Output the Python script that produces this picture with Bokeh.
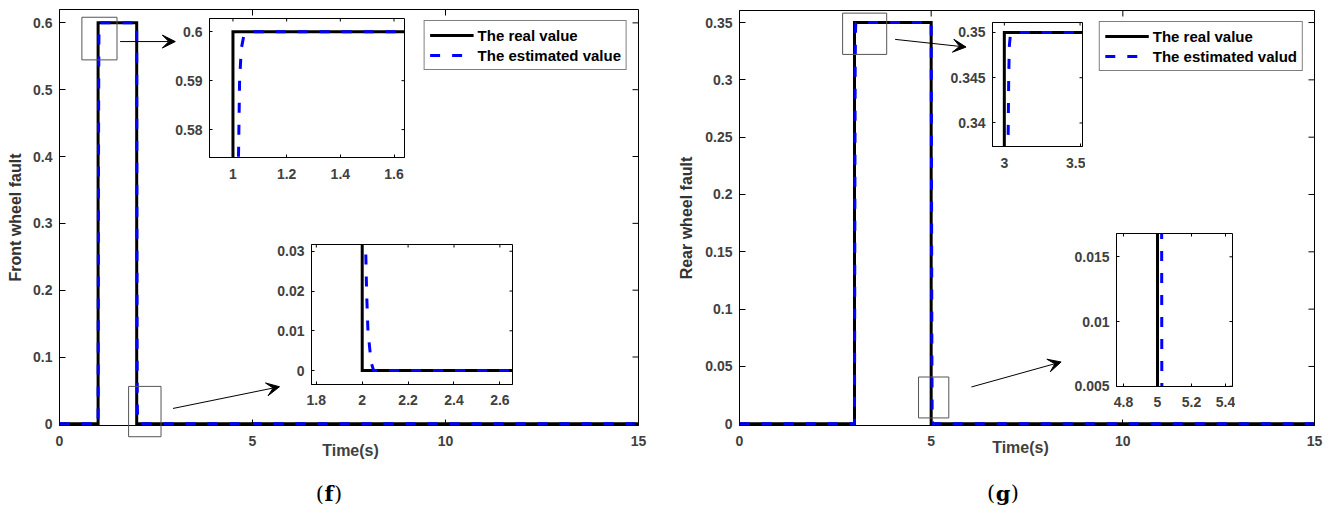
from bokeh.plotting import figure
from bokeh.models import (Range1d, FixedTicker, Legend, LegendItem,
                          Label, BoxAnnotation, Arrow, VeeHead, GridBox)
from bokeh.embed import file_html
from bokeh.resources import INLINE

# ---------------- data ----------------
front_real_t = [0, 1, 1, 2, 2, 15]
front_real_v = [0, 0, 0.6, 0.6, 0, 0]
front_est_t = [0, 1.0, 1.008, 1.014, 1.0206, 1.0247, 1.031, 1.0397, 1.065,
               2.0, 2.006, 2.010, 2.0148, 2.019, 2.025, 2.039, 2.05, 15]
front_est_v = [0, 0, 0.30, 0.48, 0.5743, 0.590, 0.5965, 0.599, 0.6,
               0.6, 0.30, 0.12, 0.0317, 0.020, 0.010, 0.002, 0, 0]

rear_real_t = [0, 3, 3, 5, 5, 15]
rear_real_v = [0, 0, 0.35, 0.35, 0, 0]
rear_est_t = [0, 3.0, 3.010, 3.018, 3.0247, 3.029, 3.033, 3.040, 3.070,
              5.0, 5.010, 5.018, 5.0245, 5.0255, 5.035, 5.06, 15]
rear_est_v = [0, 0, 0.20, 0.31, 0.3374, 0.345, 0.3485, 0.3497, 0.35,
              0.35, 0.20, 0.07, 0.0168, 0.005, 0.001, 0, 0]

series_names_f = ["The real value", "The estimated value"]
series_names_g = ["The real value", "The estimated valud"]

time_ticks = [0, 5, 10, 15]
time_labels = ["0", "5", "10", "15"]
front_ticks = [0, 0.1, 0.2, 0.3, 0.4, 0.5, 0.6]
front_labels = ["0", "0.1", "0.2", "0.3", "0.4", "0.5", "0.6"]
rear_ticks = [0, 0.05, 0.1, 0.15, 0.2, 0.25, 0.3, 0.35]
rear_labels = ["0", "0.05", "0.1", "0.15", "0.2", "0.25", "0.3", "0.35"]

f1_xticks = [1, 1.2, 1.4, 1.6]
f1_xlabels = ["1", "1.2", "1.4", "1.6"]
f1_yticks = [0.58, 0.59, 0.6]
f1_ylabels = ["0.58", "0.59", "0.6"]
f2_xticks = [1.8, 2, 2.2, 2.4, 2.6]
f2_xlabels = ["1.8", "2", "2.2", "2.4", "2.6"]
f2_yticks = [0, 0.01, 0.02, 0.03]
f2_ylabels = ["0", "0.01", "0.02", "0.03"]
g1_xticks = [3, 3.5]
g1_xlabels = ["3", "3.5"]
g1_yticks = [0.34, 0.345, 0.35]
g1_ylabels = ["0.34", "0.345", "0.35"]
g2_xticks = [4.8, 5, 5.2, 5.4]
g2_xlabels = ["4.8", "5", "5.2", "5.4"]
g2_yticks = [0.005, 0.01, 0.015]
g2_ylabels = ["0.005", "0.01", "0.015"]

xlabel = "Time(s)"
ylabel_f = "Front wheel fault"
ylabel_g = "Rear wheel fault"

# ---------------- styles ----------------
FONT = "Liberation Sans"
SERIF = "DejaVu Serif"
TICK_COLOR = "#404040"
LABEL_COLOR = "#333333"
BLUE = "#0000ff"
DASH = "10 12"


def configure_axis(ax, ticks, labels, tick_len, standoff, size="14px"):
    ax.ticker = FixedTicker(ticks=list(ticks))
    ax.major_label_overrides = {t: l for t, l in zip(ticks, labels)}
    ax.major_tick_in = tick_len
    ax.major_tick_out = 0
    ax.minor_tick_line_color = None
    ax.major_tick_line_color = "black"
    ax.axis_line_color = "black"
    ax.major_label_text_font = FONT
    ax.major_label_text_font_style = "bold"
    ax.major_label_text_font_size = size
    ax.major_label_text_color = TICK_COLOR
    ax.major_label_standoff = standoff


class Panel:
    """A figure placed at (x, y) on the page with a given frame rectangle."""

    def __init__(self, x, y, w, h, frame, xr, yr, transparent=False, axes=True):
        fx, fy, fw, fh = frame
        self.x, self.y, self.w, self.h = x, y, w, h
        self.fx, self.fy, self.fw, self.fh = fx, fy, fw, fh
        self.xr, self.yr = xr, yr
        left, top = fx - x, fy - y
        right, bottom = w - left - fw, h - top - fh
        kw = {}
        if not axes:
            kw = dict(x_axis_location=None, y_axis_location=None)
        p = figure(width=w, height=h, x_range=Range1d(*xr), y_range=Range1d(*yr),
                   output_backend="svg", toolbar_location=None, tools="",
                   min_border_left=left, min_border_right=right,
                   min_border_top=top, min_border_bottom=bottom, **kw)
        p.xgrid.visible = False
        p.ygrid.visible = False
        if axes:
            p.outline_line_color = "black"
            p.outline_line_width = 1
            p.outline_line_alpha = 1
            p.background_fill_color = "white"
        else:
            p.outline_line_color = None
            p.background_fill_alpha = 0
        if transparent:
            p.border_fill_alpha = 0
        else:
            p.border_fill_color = "white"
        self.p = p

    def axes(self, xt, xl, yt, yl, tick_len, xstand, ystand):
        p = self.p
        configure_axis(p.xaxis[0], xt, xl, tick_len, xstand)
        configure_axis(p.yaxis[0], yt, yl, tick_len, ystand)
        # mirrored inward ticks on the top and right edges of the box
        dy = tick_len * (self.yr[1] - self.yr[0]) / self.fh
        dx = tick_len * (self.xr[1] - self.xr[0]) / self.fw
        top = self.yr[1]
        right = self.xr[1]
        xin = [t for t in xt if self.xr[0] < t < self.xr[1]]
        yin = [t for t in yt if self.yr[0] < t < self.yr[1]]
        p.segment(x0=xin, x1=xin, y0=[top] * len(xin), y1=[top - dy] * len(xin),
                  line_color="black", line_width=1)
        p.segment(x0=[right] * len(yin), x1=[right - dx] * len(yin), y0=yin, y1=yin,
                  line_color="black", line_width=1)

    def draw(self, rt, rv, et, ev):
        r1 = self.p.line(rt, rv, line_color="black", line_width=3, line_join="miter")
        r2 = self.p.line(et, ev, line_color=BLUE, line_width=3, line_dash=DASH)
        return r1, r2


def overlay_of(panel, ox, oy, ow, oh):
    """A transparent, axis-less figure over a main panel, sharing its data units."""
    kx = (panel.xr[1] - panel.xr[0]) / panel.fw
    ky = (panel.yr[1] - panel.yr[0]) / panel.fh
    xr = (panel.xr[0] - (panel.fx - ox) * kx, panel.xr[0] + (ox + ow - panel.fx) * kx)
    yr = (panel.yr[1] - (oy + oh - panel.fy) * ky, panel.yr[1] + (panel.fy - oy) * ky)
    return Panel(ox, oy, ow, oh, (ox, oy, ow, oh), xr, yr, transparent=True, axes=False)


def add_legend(p, r1, r2, names):
    lg = Legend(items=[LegendItem(label=names[0], renderers=[r1]),
                       LegendItem(label=names[1], renderers=[r2])],
                location="top_right", margin=11, padding=5, spacing=2,
                glyph_width=44, glyph_height=18, label_height=18, label_standoff=4,
                label_text_font=FONT, label_text_font_style="bold",
                label_text_font_size="15px", label_text_color="black",
                border_line_color="black", border_line_width=1,
                background_fill_color="white", background_fill_alpha=1)
    p.add_layout(lg)


def add_texts(p, xl_x, xl_y, cap_x, cap_y, letter, half):
    p.add_layout(Label(x=xl_x, y=xl_y, text=xlabel, text_align="left",
                       text_baseline="alphabetic", text_font=FONT,
                       text_font_style="bold", text_font_size="16px",
                       text_color=TICK_COLOR))
    p.add_layout(Label(x=cap_x, y=cap_y, text="(", text_align="right", x_offset=-half,
                       text_baseline="alphabetic", text_font=SERIF,
                       text_font_size="21px", text_color="black"))
    p.add_layout(Label(x=cap_x, y=cap_y, text=letter, text_align="center",
                       text_baseline="alphabetic", text_font=SERIF,
                       text_font_style="bold", text_font_size="21px", text_color="black"))
    p.add_layout(Label(x=cap_x, y=cap_y, text=")", text_align="left", x_offset=half,
                       text_baseline="alphabetic", text_font=SERIF,
                       text_font_size="21px", text_color="black"))


def add_zoom_box(p, l, r, b, t):
    p.add_layout(BoxAnnotation(left=l, right=r, bottom=b, top=t, fill_alpha=0,
                               fill_color=None, line_color="#555555", line_width=1,
                               line_alpha=1))


def add_arrow(p, xs, ys, xe, ye):
    p.add_layout(Arrow(end=VeeHead(size=13, fill_color="black", line_color="black",
                                   line_width=1),
                       x_start=xs, y_start=ys, x_end=xe, y_end=ye,
                       line_color="black", line_width=1))


def ylab(p, text, standoff):
    ax = p.yaxis[0]
    ax.axis_label = text
    ax.axis_label_text_font = FONT
    ax.axis_label_text_font_style = "bold"
    ax.axis_label_text_font_size = "16px"
    ax.axis_label_text_color = LABEL_COLOR
    ax.axis_label_standoff = standoff


# ---------------- left panel (f) ----------------
PF = Panel(0, 0, 660, 505, (59, 9, 579, 416), (0, 15), (-0.0025, 0.62))
r1, r2 = PF.draw(front_real_t, front_real_v, front_est_t, front_est_v)
PF.axes(time_ticks, time_labels, front_ticks, front_labels, 6, 10, 7)
ylab(PF.p, ylabel_f, 6)
add_legend(PF.p, r1, r2, series_names_f)

# every figure gets its own grid lines so that no frames are aligned together
OF = overlay_of(PF, 1, 1, 658, 505)
add_zoom_box(OF.p, 0.58, 1.49, 0.5446, 0.6084)
add_zoom_box(OF.p, 1.79, 2.63, -0.0193, 0.056)
add_arrow(OF.p, 1.57, 0.572, 3.0, 0.572)
add_arrow(OF.p, 2.94, 0.023, 5.70, 0.0555)
add_texts(OF.p, 6.806, -0.0399, 6.982, -0.1045, "f", 5)

FI1 = Panel(164, 16, 242, 171, (209, 18, 195, 139), (0.9126, 1.639), (0.5743, 0.6027), True)
FI1.draw(front_real_t, front_real_v, front_est_t, front_est_v)
FI1.axes(f1_xticks, f1_xlabels, f1_yticks, f1_ylabels, 3, 11, 7)

FI2 = Panel(261, 242, 253, 172, (311, 244, 201, 140), (1.779, 2.655), (-0.0035, 0.0317), True)
FI2.draw(front_real_t, front_real_v, front_est_t, front_est_v)
FI2.axes(f2_xticks, f2_xlabels, f2_yticks, f2_ylabels, 3, 10, 7)

# ---------------- right panel (g) ----------------
PG = Panel(661, 2, 669, 502, (739, 10, 575, 415), (0, 15), (-0.0015, 0.3605))
s1, s2 = PG.draw(rear_real_t, rear_real_v, rear_est_t, rear_est_v)
PG.axes(time_ticks, time_labels, rear_ticks, rear_labels, 6, 10, 7)
ylab(PG.p, ylabel_g, 7)
add_legend(PG.p, s1, s2, series_names_g)

OG = overlay_of(PG, 662, 3, 667, 504)
add_zoom_box(OG.p, 2.69, 3.84, 0.3222, 0.3582)
add_zoom_box(OG.p, 4.67, 5.46, 0.0051, 0.0408)
add_arrow(OG.p, 4.06, 0.3353, 5.91, 0.3286)
add_arrow(OG.p, 6.05, 0.0321, 8.39, 0.0539)
add_texts(OG.p, 6.592, -0.0210, 6.874, -0.0608, "g", 7.7)

GI1 = Panel(944, 20, 141, 156, (992, 22, 90, 124), (2.922, 3.516), (0.3374, 0.3511), True)
GI1.draw(rear_real_t, rear_real_v, rear_est_t, rear_est_v)
GI1.axes(g1_xticks, g1_xlabels, g1_yticks, g1_ylabels, 3, 11, 7)

GI2 = Panel(1066, 231, 169, 185, (1116, 233, 116, 153), (4.759, 5.441), (0.00498, 0.0168), True)
GI2.draw(rear_real_t, rear_real_v, rear_est_t, rear_est_v)
GI2.axes(g2_xticks, g2_xlabels, g2_yticks, g2_ylabels, 3, 10, 7)

# ---------------- overlapping grid placement ----------------
panels = [PF, PG, OF, OG, FI1, FI2, GI1, GI2]
xs = sorted({v for q in panels for v in (q.x, q.x + q.w)})
ys = sorted({v for q in panels for v in (q.y, q.y + q.h)})
children = []
for q in panels:
    c0, c1 = xs.index(q.x), xs.index(q.x + q.w)
    r0, r1_ = ys.index(q.y), ys.index(q.y + q.h)
    children.append((q.p, r0, c0, r1_ - r0, c1 - c0))
cols = [f"{b - a}px" for a, b in zip(xs, xs[1:])]
rows = [f"{b - a}px" for a, b in zip(ys, ys[1:])]

grid = GridBox(children=children, rows=rows, cols=cols, spacing=0)

open("out.html", "w").write(file_html(grid, INLINE))
